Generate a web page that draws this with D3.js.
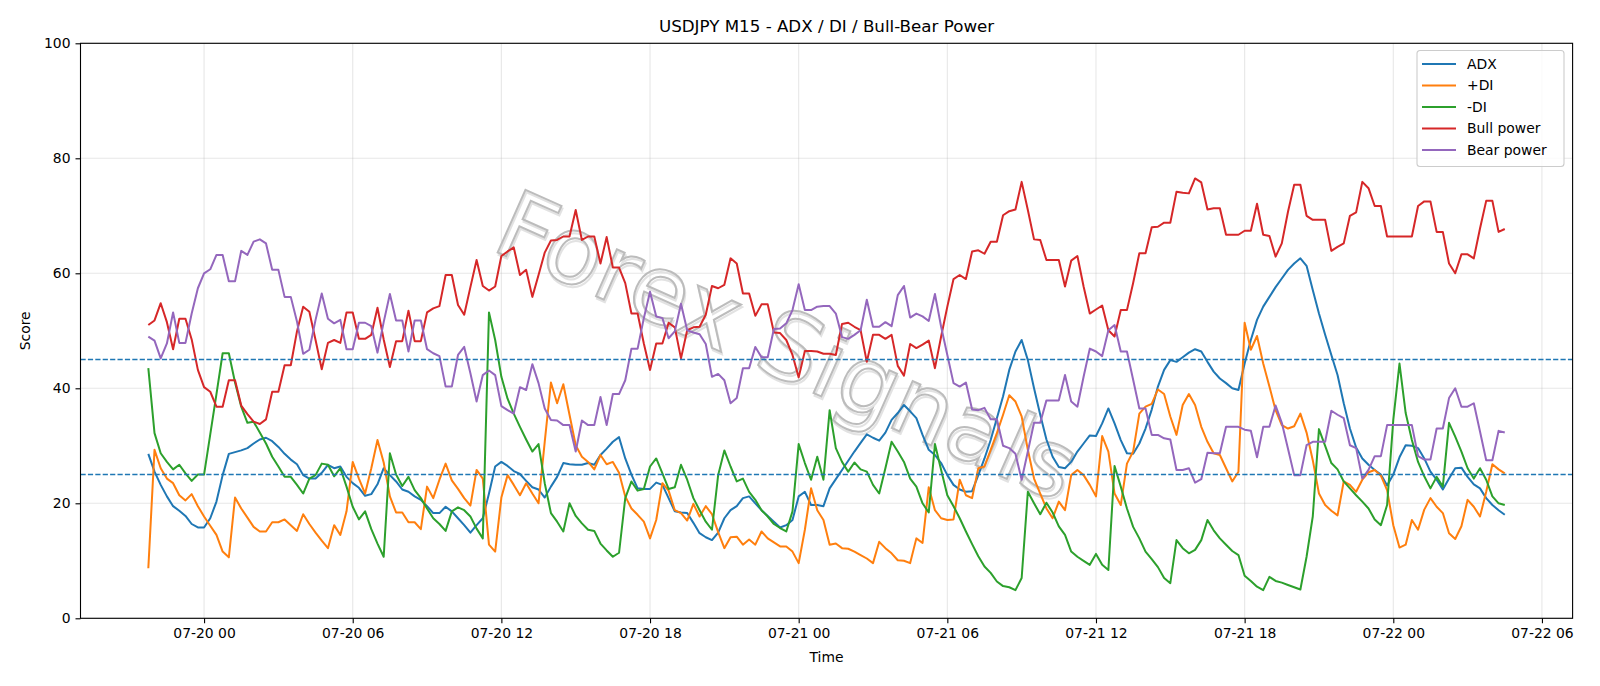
<!DOCTYPE html>
<html>
<head>
<meta charset="utf-8">
<script src="https://cdn.jsdelivr.net/npm/d3@7"></script>
<style>
  body { margin: 0; background: #fff; }
  text { font-family: "DejaVu Sans", sans-serif; }
</style>
</head>
<body>
<script>
// 15-minute bars, first bar 07-19 21:45
const startTime = "2025-07-19T21:45:00Z";
const stepMinutes = 15;

const adx = [
  28.6, 25.5, 23.2, 21.2, 19.5, 18.7, 17.8, 16.4, 15.8, 15.8, 17.4, 20.3, 24.9, 28.6, 28.9, 29.2, 29.6, 30.4, 31.1, 31.4,
  30.8, 29.8, 28.6, 27.6, 26.8, 24.9, 24.3, 24.3, 25.3, 26.7, 26.1, 26.4, 24.6, 23.5, 22.7, 21.3, 21.6, 23.3,
  26.1, 24.9, 23.8, 22.4, 22.0, 21.2, 20.6, 19.5, 18.3, 18.3, 19.4, 18.6, 17.4, 16.2, 14.9, 16.2, 17.4, 21.7, 26.4, 27.2,
  26.5, 25.6, 25.1, 23.9, 22.8, 22.4, 21.0, 22.9, 24.6, 27.0, 26.8, 26.7, 26.7, 27.0, 26.7, 28.4, 29.5,
  30.7, 31.5, 27.8, 25.0, 22.6, 22.5, 22.5, 23.6, 23.2, 20.9, 18.6, 18.4, 18.3, 16.6, 14.8, 14.1, 13.6, 14.9, 17.4, 18.8,
  19.5, 20.9, 21.2, 20.0, 18.8, 17.8, 16.8, 15.8, 16.2, 17.1, 21.2, 22.0, 19.7, 19.7, 19.5, 22.6, 24.2,
  25.8, 27.4, 29.0, 30.5, 32.0, 31.4, 30.9, 32.3, 34.5, 35.7, 37.1, 36.0, 34.8, 31.9, 29.3, 28.4, 27.0, 24.9, 23.2, 22.4,
  22.0, 22.1, 24.9, 27.8, 31.0, 34.8, 38.6, 43.2, 46.4, 48.4, 44.9, 40.0, 35.4, 31.1, 28.1, 26.3, 26.1,
  27.2, 29.0, 30.4, 31.8, 31.7, 33.9, 36.5, 33.9, 31.0, 28.7, 28.6, 30.4, 33.0, 36.3, 40.3, 43.2, 44.9, 44.6, 45.4, 46.2,
  46.8, 46.4, 44.6, 42.9, 41.7, 40.9, 40.0, 39.7, 44.3, 48.4, 51.9, 54.2, 55.9, 57.6, 59.1, 60.6, 61.7,
  62.6, 61.3, 57.1, 53.0, 49.3, 45.8, 42.3, 37.4, 33.0, 29.7, 27.8, 26.7, 25.8, 25.0, 23.1, 25.0, 28.0, 30.1, 30.0, 29.6,
  27.8, 25.5, 24.1, 22.4, 24.3, 26.1, 26.2, 24.6, 23.3, 22.6, 20.9, 19.7, 18.8, 18.0
];

const plusDI = [
  8.7, 29.3, 26.1, 24.3, 23.5, 21.4, 20.5, 21.6, 19.5, 17.7, 16.1, 14.5, 11.6, 10.6, 21.0, 19.1, 17.5, 15.9, 15.1, 15.1,
  16.7, 16.7, 17.2, 16.2, 15.2, 18.1, 16.4, 14.9, 13.5, 12.2, 16.2, 14.5, 18.6, 27.2, 24.3, 21.7, 26.1, 31.0,
  27.1, 21.2, 18.4, 18.4, 16.7, 16.7, 15.5, 22.9, 20.9, 24.1, 26.9, 24.0, 22.5, 20.9, 19.6, 25.8, 24.3, 12.8, 11.6, 21.0,
  24.9, 23.2, 21.4, 23.5, 21.7, 20.0, 30.7, 41.0, 37.4, 40.7, 35.4, 30.1, 28.1, 27.2, 25.9, 28.4, 26.8,
  27.2, 25.3, 21.2, 19.1, 18.0, 16.8, 13.9, 17.1, 23.5, 22.2, 18.8, 18.3, 17.0, 19.9, 17.7, 19.5, 18.1, 15.0, 12.2, 14.1,
  14.2, 12.8, 13.7, 12.8, 15.1, 13.9, 13.2, 12.5, 12.5, 11.6, 9.6, 15.4, 22.6, 18.8, 17.1, 12.8, 13.0,
  12.2, 12.1, 11.6, 11.0, 10.4, 9.6, 13.3, 12.2, 11.3, 10.1, 10.0, 9.6, 13.9, 13.1, 22.8, 18.8, 17.4, 17.1, 17.2, 24.1,
  21.4, 20.9, 26.1, 26.4, 29.3, 32.2, 35.4, 38.8, 37.7, 35.1, 29.3, 24.3, 21.7, 19.1, 17.4, 20.3, 18.8,
  24.9, 25.8, 24.9, 23.2, 21.2, 31.7, 29.0, 21.7, 19.7, 26.9, 29.0, 35.6, 36.8, 37.3, 39.8, 39.0, 35.1, 31.9, 37.1, 39.0,
  37.1, 33.3, 30.7, 28.7, 28.4, 26.1, 23.8, 25.5, 51.4, 46.7, 49.1, 44.3, 40.3, 36.2, 33.6, 33.0, 33.4,
  35.6, 32.3, 27.5, 21.7, 19.7, 18.7, 17.9, 23.8, 23.2, 22.0, 24.1, 25.4, 25.8, 24.8, 22.3, 16.2, 12.3, 12.8, 17.1, 15.4,
  18.9, 20.9, 19.4, 18.3, 14.8, 13.8, 16.0, 20.6, 19.4, 17.7, 22.0, 26.8, 25.9, 25.2
];

const minusDI = [
  43.5, 32.2, 28.7, 27.2, 25.9, 26.7, 25.2, 23.9, 25.0, 25.0, 32.0, 39.0, 46.1, 46.1, 41.0, 36.8, 34.0, 34.2, 32.3, 30.4,
  28.1, 26.4, 24.6, 24.6, 23.2, 21.7, 24.3, 24.9, 26.9, 26.7, 24.7, 26.1, 22.9, 19.4, 17.2, 18.6, 15.5, 13.0,
  10.7, 28.7, 25.0, 23.0, 24.6, 22.3, 20.9, 19.1, 17.4, 16.4, 15.2, 18.6, 19.3, 18.8, 17.7, 15.6, 13.9, 53.2, 48.4, 42.0,
  38.2, 35.6, 33.3, 31.1, 29.0, 30.3, 23.5, 18.3, 16.8, 15.1, 20.0, 17.8, 16.5, 15.4, 15.2, 13.0, 11.8,
  10.7, 11.4, 20.9, 23.8, 22.2, 22.5, 26.4, 27.8, 25.2, 22.5, 22.8, 26.7, 24.1, 20.9, 18.8, 16.8, 15.4, 24.9, 29.2, 26.4,
  23.8, 24.3, 22.0, 20.6, 18.8, 17.7, 16.4, 15.7, 15.1, 18.6, 30.3, 27.0, 24.1, 28.1, 24.1, 36.2, 29.6,
  27.2, 25.5, 27.1, 25.9, 25.5, 23.2, 21.7, 26.1, 30.7, 29.0, 27.2, 24.3, 22.9, 20.0, 18.4, 30.3, 25.8, 21.4, 19.5, 17.4,
  15.1, 12.9, 10.8, 9.0, 7.9, 6.4, 5.6, 5.4, 4.9, 7.0, 22.0, 20.0, 18.1, 20.1, 18.4, 16.0, 14.5,
  11.6, 10.7, 10.0, 9.3, 11.2, 9.3, 8.4, 26.5, 22.9, 19.1, 15.9, 13.9, 11.6, 10.3, 8.9, 7.0, 6.1, 13.6, 12.2, 11.3,
  11.9, 13.6, 17.1, 15.3, 13.9, 12.8, 11.7, 11.0, 7.4, 6.5, 5.5, 4.9, 7.2, 6.5, 6.2, 5.8, 5.4,
  5.0, 10.7, 17.7, 32.9, 30.0, 27.0, 25.9, 23.8, 22.6, 21.4, 20.3, 19.1, 17.2, 16.2, 19.7, 34.5, 44.3, 35.7, 31.0, 27.2,
  24.7, 22.6, 24.6, 22.9, 34.0, 31.6, 29.0, 26.1, 24.3, 26.1, 24.1, 21.2, 20.0, 19.7
];

const bullPower = [
  51.0, 51.8, 54.8, 51.5, 46.8, 52.1, 52.1, 48.5, 43.2, 40.2, 39.4, 36.8, 36.8, 41.4, 41.4, 37.0, 35.5, 34.2, 33.8, 34.6,
  39.4, 39.4, 44.0, 44.0, 49.9, 54.2, 53.3, 48.4, 43.3, 47.9, 48.4, 47.9, 53.2, 53.2, 48.6, 48.6, 49.3, 54.0,
  48.5, 43.7, 48.2, 48.2, 53.5, 48.2, 48.2, 53.2, 53.9, 54.3, 59.7, 59.7, 54.5, 52.8, 57.6, 62.3, 57.8, 57.0, 57.7, 63.0,
  63.8, 64.5, 59.7, 60.6, 55.9, 59.7, 63.6, 65.7, 65.8, 66.4, 66.4, 71.0, 65.8, 66.4, 66.4, 61.7, 66.3,
  61.0, 61.0, 58.3, 53.0, 53.0, 47.8, 43.2, 47.8, 47.8, 51.4, 50.6, 45.2, 50.1, 50.6, 50.7, 52.8, 57.8, 57.4, 58.0, 62.6,
  61.7, 56.5, 56.5, 52.6, 54.6, 54.6, 49.7, 49.6, 48.4, 45.8, 41.9, 46.5, 46.5, 46.4, 46.0, 46.0, 45.8,
  51.2, 51.4, 50.7, 50.1, 44.6, 49.3, 49.3, 48.6, 49.3, 43.9, 42.2, 47.7, 47.0, 47.6, 48.3, 43.5, 49.0, 54.2, 59.0, 59.7,
  59.0, 63.8, 64.0, 63.4, 65.5, 65.5, 70.1, 70.8, 71.1, 75.9, 71.0, 65.9, 65.8, 62.3, 62.3, 62.3, 57.7,
  62.2, 63.0, 57.7, 53.0, 53.7, 54.4, 50.1, 49.0, 53.6, 53.6, 58.3, 63.5, 63.5, 68.0, 68.1, 68.8, 68.8, 74.2, 74.0, 73.9,
  76.5, 75.8, 71.1, 71.3, 71.3, 66.7, 66.7, 66.7, 67.4, 67.4, 72.1, 66.7, 66.5, 62.9, 65.2, 70.7, 75.4,
  75.4, 70.0, 69.3, 69.3, 69.3, 63.9, 64.6, 65.2, 70.0, 70.6, 75.9, 74.8, 71.7, 71.7, 66.4, 66.4, 66.4, 66.4, 66.4, 71.7,
  72.5, 72.5, 67.2, 67.2, 61.7, 60.0, 63.3, 63.3, 62.6, 67.8, 72.6, 72.6, 67.2, 67.7
];

const bearPower = [
  49.0, 48.3, 45.2, 47.8, 53.2, 47.9, 47.9, 53.0, 57.4, 60.0, 60.7, 63.2, 63.2, 58.6, 58.6, 63.9, 63.2, 65.5, 65.9, 65.2,
  60.6, 60.6, 55.9, 55.9, 51.6, 46.0, 46.7, 51.9, 56.5, 52.1, 51.3, 51.9, 46.8, 46.8, 51.4, 51.4, 50.8, 46.2,
  51.5, 56.4, 51.8, 51.8, 46.4, 51.8, 51.8, 46.8, 46.1, 45.6, 40.3, 40.3, 45.8, 47.2, 42.6, 37.7, 42.3, 43.1, 42.3, 36.9,
  36.2, 35.6, 40.2, 39.7, 44.2, 40.9, 36.5, 34.5, 34.4, 33.6, 33.6, 29.0, 34.4, 33.6, 33.6, 38.5, 33.6,
  39.0, 39.0, 41.4, 46.9, 46.9, 52.2, 56.8, 52.5, 52.2, 48.7, 49.9, 54.7, 50.1, 49.7, 49.4, 47.7, 42.0, 42.5, 41.4, 37.4,
  38.3, 43.5, 43.5, 47.2, 45.4, 45.4, 50.3, 50.4, 51.3, 53.6, 58.1, 53.6, 53.6, 54.2, 54.3, 54.3, 53.0,
  48.9, 48.6, 49.3, 50.1, 55.4, 50.7, 50.7, 51.5, 50.8, 56.2, 57.8, 52.3, 53.0, 52.5, 51.7, 56.4, 50.7, 45.8, 40.9, 40.3,
  41.0, 36.3, 36.2, 36.6, 34.6, 34.6, 30.0, 29.6, 28.6, 24.1, 29.0, 34.0, 34.0, 37.9, 37.9, 37.9, 42.3,
  37.7, 36.8, 42.0, 46.9, 46.4, 45.6, 50.1, 51.0, 46.4, 46.4, 41.5, 36.5, 36.5, 31.9, 31.9, 31.3, 31.1, 25.8, 25.8, 26.1,
  23.6, 24.2, 28.8, 28.7, 28.7, 33.3, 33.3, 33.3, 32.8, 32.6, 28.0, 33.3, 33.3, 37.0, 34.0, 29.5, 24.9,
  24.9, 30.1, 30.7, 30.7, 30.7, 36.1, 35.4, 34.8, 30.1, 29.6, 24.3, 25.8, 28.2, 28.2, 33.6, 33.6, 33.6, 33.6, 33.6, 28.2,
  27.6, 27.6, 33.0, 33.0, 38.3, 40.0, 36.8, 36.8, 37.4, 32.5, 27.5, 27.5, 32.6, 32.3
];

const seriesNames = ["ADX", "+DI", "-DI", "Bull power", "Bear power"];
const seriesColors = ["#1f77b4", "#ff7f0e", "#2ca02c", "#d62728", "#9467bd"];
const levels = [45, 25];
const yTicks = [0, 20, 40, 60, 80, 100];

const width = 1600, height = 686;
const plot = {left: 80.5, right: 1572.6, top: 43.3, bottom: 618.3};

const t0 = new Date(startTime);
const times = adx.map((d, i) => d3.utcMinute.offset(t0, i * stepMinutes));
const allSeries = [adx, plusDI, minusDI, bullPower, bearPower];

// matplotlib style 5% margin on x
const tMin = times[0], tMax = times[times.length - 1];
const pad = (tMax - tMin) * 0.05;
const x = d3.scaleUtc()
  .domain([new Date(+tMin - pad), new Date(+tMax + pad)])
  .range([plot.left, plot.right]);
const y = d3.scaleLinear().domain([0, 100]).range([plot.bottom, plot.top]);

const svg = d3.select("body").append("svg")
  .attr("width", width)
  .attr("height", height);

// grid
const xTickVals = x.ticks(d3.utcHour.every(6));
svg.append("g").selectAll("line")
  .data(xTickVals)
  .join("line")
  .attr("x1", d => x(d)).attr("x2", d => x(d))
  .attr("y1", plot.top).attr("y2", plot.bottom)
  .attr("stroke", "#b0b0b0").attr("stroke-opacity", 0.3).attr("stroke-width", 1.1);
svg.append("g").selectAll("line")
  .data(yTicks)
  .join("line")
  .attr("x1", plot.left).attr("x2", plot.right)
  .attr("y1", d => y(d)).attr("y2", d => y(d))
  .attr("stroke", "#b0b0b0").attr("stroke-opacity", 0.3).attr("stroke-width", 1.1);

// watermark, hollow letters with a faint shadow
const wm = svg.append("g").attr("transform", "translate(785,352) rotate(24)");
[{dx: 2, dy: 2, c: "#e2e2e2"}, {dx: 0, dy: 0, c: "#bcbcbc"}].forEach(s => {
  wm.append("text")
    .attr("x", s.dx).attr("y", s.dy)
    .attr("text-anchor", "middle")
    .attr("dominant-baseline", "middle")
    .style("font-size", "94px")
    .attr("fill", "none")
    .attr("stroke", s.c)
    .attr("stroke-width", 2)
    .text("Forex Signals");
});

// series
const line = d3.line()
  .x((d, i) => x(times[i]))
  .y(d => y(d));

allSeries.forEach((s, k) => {
  svg.append("path")
    .datum(s)
    .attr("d", line)
    .attr("fill", "none")
    .attr("stroke", seriesColors[k])
    .attr("stroke-width", 2)
    .attr("stroke-linejoin", "round");
});

// threshold lines
svg.append("g").selectAll("line")
  .data(levels)
  .join("line")
  .attr("x1", plot.left).attr("x2", plot.right)
  .attr("y1", d => y(d)).attr("y2", d => y(d))
  .attr("stroke", "#1f77b4")
  .attr("stroke-width", 1.4)
  .attr("stroke-dasharray", "5.2,2.2");

// axes
const xAxis = svg.append("g")
  .attr("transform", `translate(0,${plot.bottom})`)
  .call(d3.axisBottom(x).tickValues(xTickVals).tickFormat(d3.utcFormat("%m-%d %H")).tickSizeOuter(0).tickSize(5).tickPadding(5));
const yAxis = svg.append("g")
  .attr("transform", `translate(${plot.left},0)`)
  .call(d3.axisLeft(y).tickValues(yTicks).tickSizeOuter(0).tickSize(5).tickPadding(5));
[xAxis, yAxis].forEach(a => {
  a.select(".domain").remove();
  a.selectAll("text").style("font-size", "13.9px").attr("fill", "#000");
  a.selectAll("line").attr("stroke", "#000").attr("stroke-width", 1.1);
});

// frame
svg.append("rect")
  .attr("x", plot.left).attr("y", plot.top)
  .attr("width", plot.right - plot.left).attr("height", plot.bottom - plot.top)
  .attr("fill", "none").attr("stroke", "#000").attr("stroke-width", 1.1);

// titles
svg.append("text")
  .attr("x", (plot.left + plot.right) / 2).attr("y", 32)
  .attr("text-anchor", "middle")
  .style("font-size", "16.7px")
  .text("USDJPY M15 - ADX / DI / Bull-Bear Power");
svg.append("text")
  .attr("x", (plot.left + plot.right) / 2).attr("y", 662)
  .attr("text-anchor", "middle")
  .style("font-size", "13.9px")
  .text("Time");
svg.append("text")
  .attr("transform", `translate(30,${(plot.top + plot.bottom) / 2}) rotate(-90)`)
  .attr("text-anchor", "middle")
  .style("font-size", "13.9px")
  .text("Score");

// legend
const legend = svg.append("g").attr("transform", "translate(1417,50.5)");
legend.append("rect")
  .attr("width", 147).attr("height", 116)
  .attr("rx", 3)
  .attr("fill", "#fff").attr("fill-opacity", 0.8)
  .attr("stroke", "#cccccc").attr("stroke-width", 1.1);
const items = legend.selectAll("g.item")
  .data(seriesNames)
  .join("g")
  .attr("class", "item")
  .attr("transform", (d, i) => `translate(0,${13.5 + i * 21.5})`);
items.append("line")
  .attr("x1", 5).attr("x2", 39)
  .attr("stroke", (d, i) => seriesColors[i])
  .attr("stroke-width", 2);
items.append("text")
  .attr("x", 50).attr("dy", "0.35em")
  .style("font-size", "13.9px")
  .text(d => d);
</script>
</body>
</html>
